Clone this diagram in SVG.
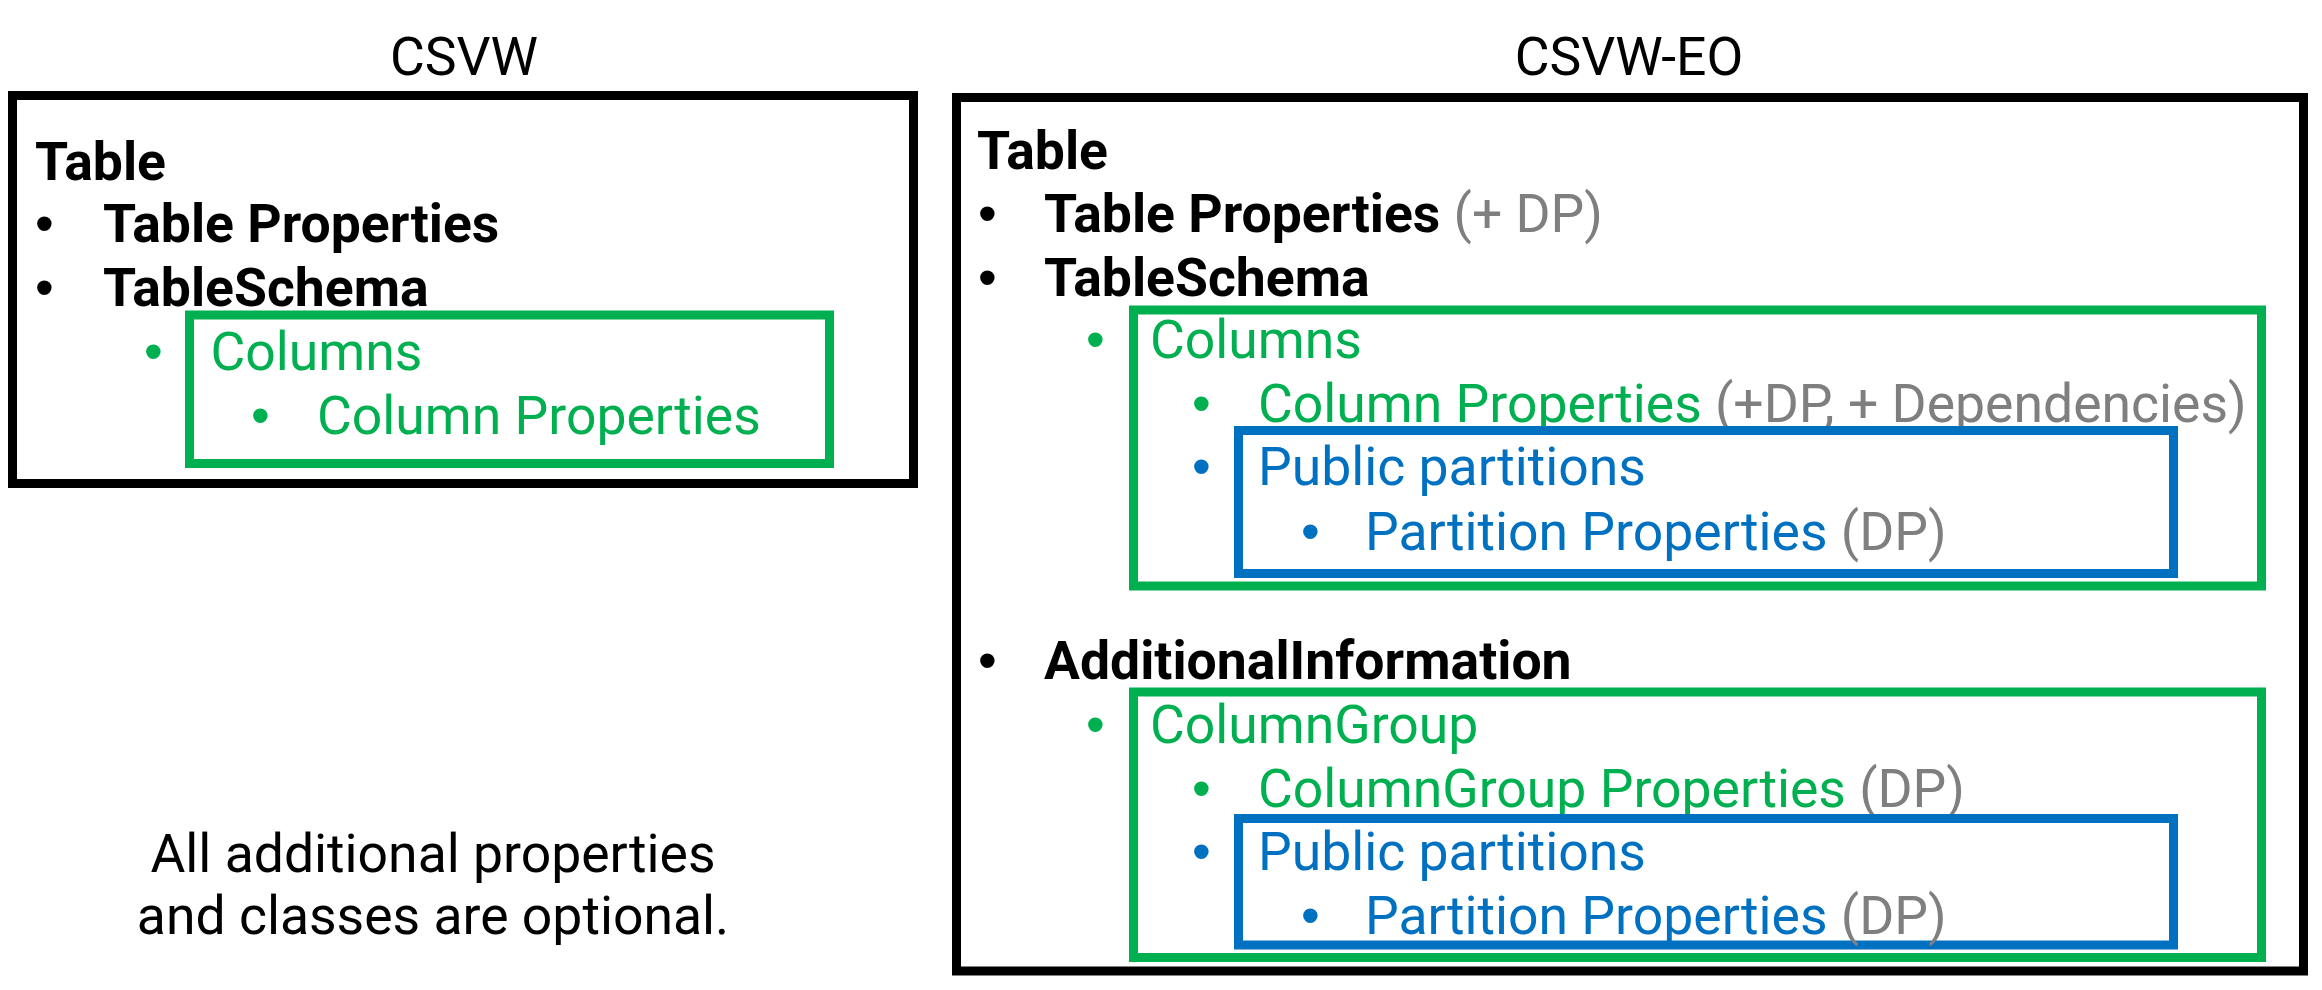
<svg xmlns="http://www.w3.org/2000/svg" width="2322" height="990" viewBox="0 0 2322 990">
<style>
text{font-family:Roboto,"Liberation Sans",sans-serif;font-size:53.5px}
.b{font-weight:bold}
.blk{fill:#000}
.g{fill:#00B050}
.bl{fill:#0070C0}
.gr{fill:#7F7F7F}
.bu{font-family:"Liberation Sans",Arial,sans-serif}
.hd{text-anchor:middle}
.box{fill:none;stroke-width:9}
.kb{stroke:#000}
.kg{stroke:#00B050}
.kl{stroke:#0070C0}
</style>
<rect width="2322" height="990" fill="#fff"/>
<g id="csvw">
<text class="hd" x="464" y="75">CSVW</text>
<rect class="box kb" x="12.5" y="95.5" width="901" height="388"/>
<text class="b" x="35" y="180">Table</text>
<text class="bu" x="35" y="242">•</text>
<text class="b" x="103" y="242">Table Properties</text>
<text class="bu" x="35" y="306">•</text>
<text class="b" x="103" y="306">TableSchema</text>
<g id="csvw-columns">
<rect class="box kg" x="189.5" y="315" width="640" height="148.5"/>
<text class="bu g" x="144" y="370">•</text>
<text class="g" x="210.5" y="370">Columns</text>
<text class="bu g" x="251" y="434">•</text>
<text class="g" x="317" y="434">Column Properties</text>
</g>
</g>
<g id="note">
<text class="hd" x="433" y="872">All additional properties</text>
<text class="hd" x="433" y="934">and classes are optional.</text>
</g>
<g id="csvw-eo">
<text class="hd" x="1629" y="75">CSVW-EO</text>
<rect class="box kb" x="956.5" y="97.5" width="1347" height="873.5"/>
<text class="b" x="977" y="169">Table</text>
<text class="bu" x="978" y="232">•</text>
<text x="1044" y="232"><tspan class="b">Table Properties</tspan><tspan class="gr"> (+ DP)</tspan></text>
<text class="bu" x="978" y="296">•</text>
<text class="b" x="1044" y="296">TableSchema</text>
<g id="eo-columns">
<rect class="box kg" x="1133.5" y="310" width="1128" height="276"/>
<text class="bu g" x="1086" y="358">•</text>
<text class="g" x="1150" y="358">Columns</text>
<text class="bu g" x="1192" y="422">•</text>
<text x="1258" y="422"><tspan class="g">Column Properties</tspan><tspan class="gr"> (+DP, + Dependencies)</tspan></text>
<g id="eo-columns-partitions">
<rect class="box kl" x="1238.5" y="430.5" width="935" height="143"/>
<text class="bu bl" x="1192" y="485">•</text>
<text class="bl" x="1258" y="485">Public partitions</text>
<text class="bu bl" x="1301" y="550">•</text>
<text x="1365" y="550"><tspan class="bl">Partition Properties</tspan><tspan class="gr"> (DP)</tspan></text>
</g>
</g>
<text class="bu" x="978" y="679">•</text>
<text class="b" x="1044" y="679">AdditionalInformation</text>
<g id="eo-columngroup">
<rect class="box kg" x="1133.5" y="692" width="1128" height="265.5"/>
<text class="bu g" x="1086" y="743">•</text>
<text class="g" x="1150" y="743">ColumnGroup</text>
<text class="bu g" x="1192" y="807">•</text>
<text x="1258" y="807"><tspan class="g">ColumnGroup Properties</tspan><tspan class="gr"> (DP)</tspan></text>
<g id="eo-columngroup-partitions">
<rect class="box kl" x="1238.5" y="818.5" width="935" height="126.5"/>
<text class="bu bl" x="1192" y="870">•</text>
<text class="bl" x="1258" y="870">Public partitions</text>
<text class="bu bl" x="1301" y="934">•</text>
<text x="1365" y="934"><tspan class="bl">Partition Properties</tspan><tspan class="gr"> (DP)</tspan></text>
</g>
</g>
</g>
<g id="connectors"/>
</svg>
